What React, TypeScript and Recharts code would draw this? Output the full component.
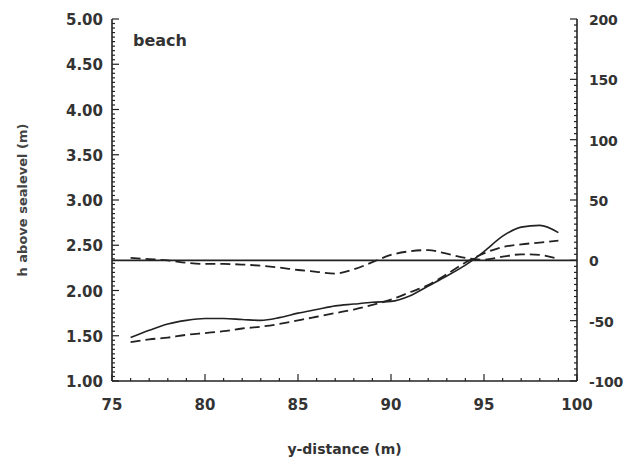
import { Line, LineChart, XAxis, YAxis } from "recharts"

document.body.style.margin = "0"

const INK = "#222"
const FONT = "'DejaVu Sans', sans-serif"

// y-distance (m)
const distance = [75, 76, 77, 78, 79, 80, 81, 82, 83, 84, 85, 86, 87, 88, 89, 90, 91, 92, 93, 94, 95, 96, 97, 98, 99, 100]

// h above sealevel (m), left axis
const solidProfile = [
  null, 1.48, 1.56, 1.63, 1.67, 1.69, 1.69, 1.68, 1.67, 1.7, 1.75, 1.79, 1.83,
  1.85, 1.87, 1.88, 1.94, 2.05, 2.16, 2.28, 2.43, 2.6, 2.7, 2.72, 2.64, null,
]
const dashedProfile = [
  null, 1.43, 1.46, 1.48, 1.51, 1.53, 1.55, 1.58, 1.6, 1.63, 1.67, 1.71, 1.75,
  1.79, 1.84, 1.9, 1.98, 2.06, 2.18, 2.31, 2.41, 2.48, 2.51, 2.53, 2.55, null,
]

// right axis
const dashedChange = [
  null, 2, 1, 0, -2, -3, -3, -3.5, -4.5, -6, -8, -9.5, -11,
  -7.5, -1.5, 4.5, 7.5, 8.5, 5.5, 2, 0.5, 3, 5, 4.5, 1, null,
]
const zeroLine = [0, null, null, null, null, null, null, null, null, null, null, null, null,
  null, null, null, null, null, null, null, null, null, null, null, null, 0]

const xMajorTicks = [75, 80, 85, 90, 95, 100]
const leftMajorTicks = [1.0, 1.5, 2.0, 2.5, 3.0, 3.5, 4.0, 4.5, 5.0]
const rightMajorTicks = [-100, -50, 0, 50, 100, 150, 200]

function buildTicks(min: number, max: number, step: number) {
  const out: number[] = []
  const n = Math.round((max - min) / step)
  for (let i = 0; i <= n; i++) out.push(Math.round((min + i * step) * 1000) / 1000)
  return out
}

const isMajor = (value: number, majors: number[]) => majors.some((m) => Math.abs(m - value) < 1e-6)

const data = distance.map((x, i) => ({
  x,
  solid: solidProfile[i],
  dashed: dashedProfile[i],
  change: dashedChange[i],
  zero: zeroLine[i],
}))

const labelStyle = { fontFamily: FONT, fontSize: 15, fontWeight: 700, fill: "#333" }

function BottomTick({ x, y, payload }: any) {
  const major = isMajor(payload.value, xMajorTicks)
  return (
    <g>
      <line x1={x} y1={y} x2={x} y2={y - (major ? 7 : 3)} stroke={INK} strokeWidth={1.2} />
      {major ? (
        <text x={x} y={y + 29} textAnchor="middle" {...labelStyle}>
          {payload.value}
        </text>
      ) : null}
    </g>
  )
}

function LeftTick({ x, y, payload }: any) {
  const major = isMajor(payload.value, leftMajorTicks)
  return (
    <g>
      <line x1={x} y1={y} x2={x + (major ? 7 : 3)} y2={y} stroke={INK} strokeWidth={1.2} />
      {major ? (
        <text x={x - 9} y={y + 6} textAnchor="end" {...labelStyle}>
          {payload.value.toFixed(2)}
        </text>
      ) : null}
    </g>
  )
}

function RightTick({ x, y, payload }: any) {
  const major = isMajor(payload.value, rightMajorTicks)
  return (
    <g>
      <line x1={x} y1={y} x2={x - (major ? 7 : 3)} y2={y} stroke={INK} strokeWidth={1.2} />
      {major ? (
        <text x={x + 12} y={y + 6} textAnchor="start" {...labelStyle} fontSize={14} letterSpacing={-0.3}>
          {payload.value}
        </text>
      ) : null}
    </g>
  )
}

export default function App() {
  return (
    <div style={{ width: 624, height: 466, background: "#fff" }}>
      <LineChart width={624} height={466} data={data} margin={{ top: 19, right: 0, left: 0, bottom: 0 }}>
        <XAxis
          xAxisId="bottom"
          dataKey="x"
          type="number"
          domain={[75, 100]}
          ticks={buildTicks(75, 100, 1)}
          interval={0}
          tickSize={0}
          tickMargin={0}
          tickLine={false}
          tick={<BottomTick />}
          height={85}
          axisLine={{ stroke: INK, strokeWidth: 1.6 }}
          label={{
            value: "y-distance (m)",
            position: "insideBottom",
            offset: 12,
            style: { fontFamily: FONT, fontSize: 14, fontWeight: 700, fill: "#333" },
          }}
        />
        <XAxis
          xAxisId="top"
          orientation="top"
          dataKey="x"
          type="number"
          domain={[75, 100]}
          height={0}
          tick={false}
          tickLine={false}
          axisLine={{ stroke: INK, strokeWidth: 1.6 }}
        />
        <YAxis
          yAxisId="left"
          domain={[1, 5]}
          ticks={buildTicks(1, 5, 0.05)}
          interval={0}
          tickSize={0}
          tickMargin={0}
          tickLine={false}
          tick={<LeftTick />}
          width={112}
          axisLine={{ stroke: INK, strokeWidth: 1.6 }}
          label={{
            value: "h above sealevel (m)",
            angle: -90,
            position: "insideLeft",
            offset: 22,
            style: { fontFamily: FONT, fontSize: 13, fontWeight: 700, fill: "#444", textAnchor: "middle" },
          }}
        />
        <YAxis
          yAxisId="right"
          orientation="right"
          domain={[-100, 200]}
          ticks={buildTicks(-100, 200, 5)}
          interval={0}
          tickSize={0}
          tickMargin={0}
          tickLine={false}
          tick={<RightTick />}
          width={47}
          axisLine={{ stroke: INK, strokeWidth: 1.6 }}
        />
        <Line
          xAxisId="bottom"
          yAxisId="right"
          dataKey="zero"
          stroke={INK}
          strokeWidth={1.6}
          dot={false}
          connectNulls
          isAnimationActive={false}
        />
        <Line
          xAxisId="bottom"
          yAxisId="right"
          type="monotone"
          dataKey="change"
          stroke={INK}
          strokeWidth={1.8}
          strokeDasharray="10 5"
          dot={false}
          isAnimationActive={false}
        />
        <Line
          xAxisId="bottom"
          yAxisId="left"
          type="monotone"
          dataKey="solid"
          stroke={INK}
          strokeWidth={1.6}
          dot={false}
          isAnimationActive={false}
        />
        <Line
          xAxisId="bottom"
          yAxisId="left"
          type="monotone"
          dataKey="dashed"
          stroke={INK}
          strokeWidth={1.8}
          strokeDasharray="10 5"
          dot={false}
          isAnimationActive={false}
        />
        <text x={133} y={46} fontFamily={FONT} fontSize={16} fontWeight={700} fill="#333">
          beach
        </text>
      </LineChart>
    </div>
  )
}
